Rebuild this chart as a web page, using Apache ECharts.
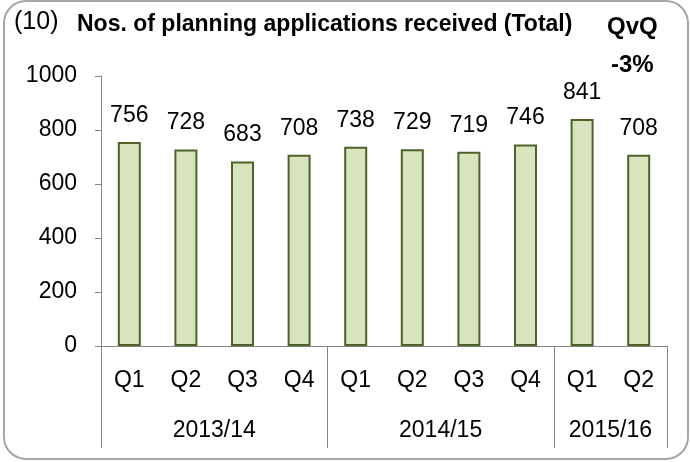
<!DOCTYPE html>
<html>
<head>
<meta charset="utf-8">
<title>Planning applications</title>
<script src="https://cdn.jsdelivr.net/npm/echarts@6/dist/echarts.min.js"></script>
<style>
  html, body { margin: 0; padding: 0; background: #fff; }
  #main { width: 690px; height: 462px; }
</style>
</head>
<body>
<div id="main"></div>
<script>
// quarters and values
var quarters = ['Q1', 'Q2', 'Q3', 'Q4', 'Q1', 'Q2', 'Q3', 'Q4', 'Q1', 'Q2'];
var applications = [756, 728, 683, 708, 738, 729, 719, 746, 841, 708];
// financial years and how many quarters each covers
var years = ['2013/14', '2014/15', '2015/16'];
var yearQuarters = [4, 4, 2];
var yTicks = [0, 200, 400, 600, 800, 1000];

// the year axis is split in half-quarter steps so labels can sit in the middle of a group
var halfSlots = [];
var yearLabelAt = {};
var yearTickAt = { 0: true };
var pos = 0;
for (var i = 0; i < years.length; i++) {
  yearLabelAt[pos + yearQuarters[i]] = years[i];
  pos += yearQuarters[i] * 2;
  yearTickAt[pos] = true;
}
for (var j = 0; j <= pos; j++) {
  halfSlots.push(yearLabelAt[j] || '');
}

var font = 'Liberation Sans';
var axisGrey = '#868686';

var chart = echarts.init(document.getElementById('main'));
chart.setOption({
  animation: false,
  textStyle: { fontFamily: font },
  title: [
    { text: '(10)', left: 9, top: 5, textStyle: { fontFamily: font, fontSize: 25, fontWeight: 'normal', color: '#000' } },
    { text: 'Nos. of planning applications received (Total)', left: 72, top: 8, textStyle: { fontFamily: font, fontSize: 23, fontWeight: 'bold', color: '#000' } },
    { text: 'QvQ', left: 602, top: 10, textStyle: { fontFamily: font, fontSize: 24, fontWeight: 'bold', color: '#000' } },
    { text: '-3%', left: 606, top: 48, textStyle: { fontFamily: font, fontSize: 24, fontWeight: 'bold', color: '#000' } }
  ],
  graphic: [{
    type: 'rect',
    shape: { x: 4, y: 1, width: 684, height: 458, r: 22 },
    style: { fill: 'none', stroke: '#a6a6a6', lineWidth: 2 },
    silent: true
  }],
  grid: { left: 101, right: 23, top: 76, bottom: 116 },
  xAxis: [{
    type: 'category',
    data: quarters,
    axisLine: { lineStyle: { color: axisGrey, width: 1 } },
    axisTick: { length: 49, lineStyle: { color: axisGrey } },
    axisLabel: { margin: 23, fontSize: 23, color: '#000', fontFamily: font }
  }, {
    type: 'category',
    data: halfSlots,
    boundaryGap: false,
    position: 'bottom',
    axisLine: { show: false },
    axisTick: {
      length: 102,
      interval: function (idx) { return !!yearTickAt[idx]; },
      lineStyle: { color: axisGrey }
    },
    axisLabel: {
      margin: 73,
      fontSize: 23,
      color: '#000',
      fontFamily: font,
      interval: function (idx, val) { return val !== ''; }
    }
  }],
  yAxis: {
    type: 'value',
    min: yTicks[0],
    max: yTicks[yTicks.length - 1],
    interval: 200,
    splitLine: { show: false },
    axisLine: { show: true, lineStyle: { color: axisGrey } },
    axisTick: { show: true, length: 6, lineStyle: { color: axisGrey } },
    axisLabel: {
      margin: 24, fontSize: 23, color: '#000', fontFamily: font,
      formatter: function (v) { return String(v); }
    }
  },
  series: [{
    type: 'bar',
    xAxisIndex: 0,
    data: applications,
    barWidth: 23,
    itemStyle: { color: '#d7e4bd', borderColor: '#4f6228', borderWidth: 2 },
    label: { show: true, position: 'top', distance: 15, fontSize: 23, color: '#000', fontFamily: font }
  }]
});
</script>
</body>
</html>
